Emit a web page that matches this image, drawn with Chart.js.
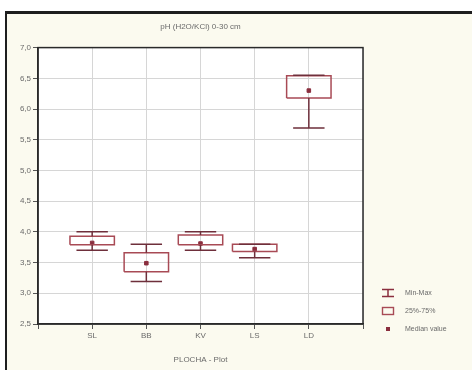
<!DOCTYPE html>
<html lang="en">
<head>
<meta charset="UTF-8">
<title>pH box plot</title>
<script src="https://cdn.jsdelivr.net/npm/chart.js"></script>
<style>
  html, body { margin: 0; padding: 0; background: #ffffff; }
  #wrap { position: relative; width: 472px; height: 370px; overflow: hidden; }
  #frame {
    position: absolute; left: 5px; top: 11px; width: 480px; height: 380px;
    background: #fbfaef; border-top: 3px solid #1e1e1e; border-left: 2px solid #1e1e1e;
  }
  #chart { position: absolute; left: 0; top: 0; }
  .leg { position: absolute; left: 380px; font: 7px "Liberation Sans", Arial, sans-serif; color: #6a6a6a; }
  .leg svg { position: absolute; left: 0; top: 0; }
  .leg span { position: absolute; left: 25px; top: 0; white-space: nowrap; line-height: 9px; }
</style>
</head>
<body>
<div id="wrap">
  <div id="frame"></div>
  <canvas id="chart" width="472" height="370"></canvas>

  <div class="leg" style="top:288px">
    <svg width="16" height="10"><path d="M2 1.5H14M8 1.5V8.5M2 8.5H14" stroke="#8a2e3e" stroke-width="1.5" fill="none"/></svg>
    <span>Min-Max</span>
  </div>
  <div class="leg" style="top:306px">
    <svg width="16" height="10"><rect x="2.5" y="1.5" width="11" height="7" stroke="#a84a55" stroke-width="1.4" fill="none"/></svg>
    <span>25%-75%</span>
  </div>
  <div class="leg" style="top:324px">
    <svg width="16" height="10"><rect x="6" y="3" width="4" height="4" fill="#8a2e3e"/></svg>
    <span>Median value</span>
  </div>
</div>

<script>
// data
const categories = ["SL", "BB", "KV", "LS", "LD"];
const minVals    = [3.70, 3.19, 3.70, 3.58, 5.69];
const q1Vals     = [3.79, 3.35, 3.79, 3.68, 6.18];
const medVals    = [3.82, 3.49, 3.81, 3.72, 6.30];
const q3Vals     = [3.93, 3.66, 3.95, 3.80, 6.54];
const maxVals    = [4.00, 3.80, 4.00, 3.80, 6.55];
const yTicks     = [2.5, 3.0, 3.5, 4.0, 4.5, 5.0, 5.5, 6.0, 6.5, 7.0];

const boxHalf = 0.41;   // half box width in category units
const capHalf = 0.29;   // half whisker cap width

const boxColor = "#a84a55";
const whiskerColor = "#6e2f3b";
const medColor = "#8a2e3e";
const font = "'Liberation Sans', Arial, sans-serif";

// build point lists from the arrays
let whiskerPts = [], capPts = [], boxPts = [], medPts = [];
categories.forEach((c, i) => {
    const x = i + 1;
    whiskerPts.push({x: x, y: q3Vals[i]}, {x: x, y: maxVals[i]}, {x: x, y: null});
    whiskerPts.push({x: x, y: q1Vals[i]}, {x: x, y: minVals[i]}, {x: x, y: null});
    capPts.push({x: x - capHalf, y: maxVals[i]}, {x: x + capHalf, y: maxVals[i]}, {x: x, y: null});
    capPts.push({x: x - capHalf, y: minVals[i]}, {x: x + capHalf, y: minVals[i]}, {x: x, y: null});
    boxPts.push({x: x - boxHalf, y: q1Vals[i]}, {x: x + boxHalf, y: q1Vals[i]},
                {x: x + boxHalf, y: q3Vals[i]}, {x: x - boxHalf, y: q3Vals[i]},
                {x: x - boxHalf, y: q1Vals[i]}, {x: x, y: null});
    medPts.push({x: x, y: medVals[i]});
});

// white plot area + dark frame round it
const plotFrame = {
    id: "plotFrame",
    beforeDraw(chart) {
        const a = chart.chartArea, ctx = chart.ctx;
        ctx.save();
        ctx.fillStyle = "#ffffff";
        ctx.fillRect(a.left, a.top, a.right - a.left, a.bottom - a.top);
        ctx.restore();
    },
    afterDraw(chart) {
        const a = chart.chartArea, ctx = chart.ctx;
        ctx.save();
        ctx.strokeStyle = "#2a2a2a";
        ctx.lineWidth = 1.5;
        ctx.strokeRect(a.left, a.top, a.right - a.left, a.bottom - a.top);
        ctx.restore();
    }
};

const lineDs = (data, color, width) => ({
    data: data, borderColor: color, borderWidth: width, pointRadius: 0,
    fill: false, spanGaps: false, tension: 0
});

new Chart(document.getElementById("chart"), {
    type: "line",
    data: {
        datasets: [
            lineDs(whiskerPts, whiskerColor, 1.5),
            lineDs(capPts, whiskerColor, 1.5),
            lineDs(boxPts, boxColor, 1.5),
            {
                data: medPts, showLine: false, pointStyle: "rect", pointRadius: 2.5,
                backgroundColor: medColor, borderColor: medColor, borderWidth: 1
            }
        ]
    },
    options: {
        responsive: false,
        animation: false,
        layout: { padding: { left: 0, right: 109, top: 0, bottom: 0 } },
        plugins: {
            legend: { display: false },
            tooltip: { enabled: false },
            title: {
                display: true,
                text: "pH (H2O/KCl) 0-30 cm",
                fullSize: false,
                color: "#6a6a6a",
                font: { family: font, size: 8, weight: "normal" },
                padding: { top: 22, bottom: 16 }
            }
        },
        scales: {
            x: {
                type: "linear", min: 0, max: 6,
                afterFit: (s) => { s.height = 46; },
                ticks: {
                    stepSize: 1, color: "#6a6a6a", padding: 2,
                    font: { family: font, size: 8 },
                    callback: (v) => categories[v - 1] || ""
                },
                grid: { color: "#d6d6d6", tickColor: "#555", tickLength: 5 },
                border: { color: "#2a2a2a", width: 1.5 },
                title: {
                    display: true, text: "PLOCHA - Plot", color: "#6a6a6a",
                    font: { family: font, size: 8 },
                    padding: { top: 0, bottom: 5 }
                }
            },
            y: {
                min: 2.5, max: 7.0,
                afterFit: (s) => { s.width = 38; },
                afterBuildTicks: (s) => { s.ticks = yTicks.map(v => ({value: v})); },
                ticks: {
                    color: "#6a6a6a", padding: 2,
                    font: { family: font, size: 8 },
                    callback: (v) => v.toFixed(1).replace(".", ",")
                },
                grid: { color: "#d6d6d6", tickColor: "#555", tickLength: 5 },
                border: { color: "#2a2a2a", width: 1.5 }
            }
        }
    },
    plugins: [plotFrame]
});
</script>
</body>
</html>
